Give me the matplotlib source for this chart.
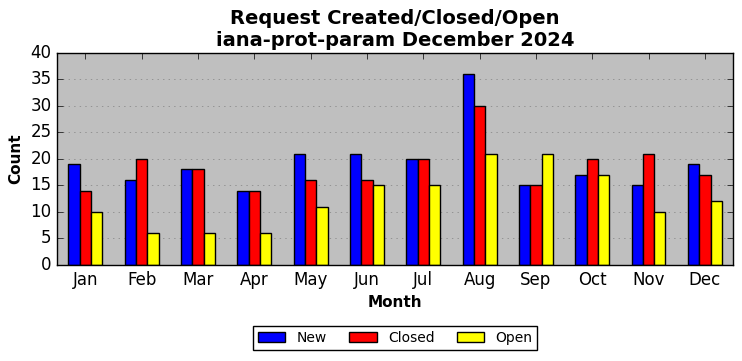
import matplotlib
matplotlib.use("Agg")
import matplotlib.pyplot as plt
import numpy as np

plt.style.use("classic")

months = ["Jan", "Feb", "Mar", "Apr", "May", "Jun", "Jul", "Aug", "Sep", "Oct", "Nov", "Dec"]
new = [19, 16, 18, 14, 21, 21, 20, 36, 15, 17, 15, 19]
closed = [14, 20, 18, 14, 16, 16, 20, 30, 15, 20, 21, 17]
open_ = [10, 6, 6, 6, 11, 15, 15, 21, 21, 17, 10, 12]

x = np.arange(len(months))
w = 0.2

fig = plt.figure(figsize=(7.42, 3.61), dpi=100)
fig.patch.set_facecolor("white")
ax = fig.add_axes([0.077, 0.266, 0.911, 0.588])
ax.set_facecolor("#bfbfbf")

ax.bar(x - w, new, w, color="blue", edgecolor="black", label="New", align="center")
ax.bar(x, closed, w, color="red", edgecolor="black", label="Closed", align="center")
ax.bar(x + w, open_, w, color="yellow", edgecolor="black", label="Open", align="center")

ax.set_xlim(-0.5, len(months) - 0.5)
ax.set_ylim(0, 40)
ax.set_xticks(x)
ax.set_xticklabels(months)
ax.set_yticks(range(0, 41, 5))
ax.yaxis.grid(True, linestyle=":", color="gray")
ax.xaxis.grid(False)
ax.set_axisbelow(True)
ax.tick_params(labelsize=12)

ax.set_xlabel("Month", fontsize=11, fontweight="bold")
ax.set_ylabel("Count", fontsize=11, fontweight="bold")
ax.set_title("Request Created/Closed/Open\niana-prot-param December 2024",
             fontsize=14, fontweight="bold")

ax.legend(loc="upper center", bbox_to_anchor=(0.5, -0.255), ncol=3,
          fontsize=10, frameon=True, fancybox=False, handlelength=2.0,
          handleheight=0.7, columnspacing=1.6, borderpad=0.35)

fig.savefig("out.png", dpi=100, facecolor="white")
